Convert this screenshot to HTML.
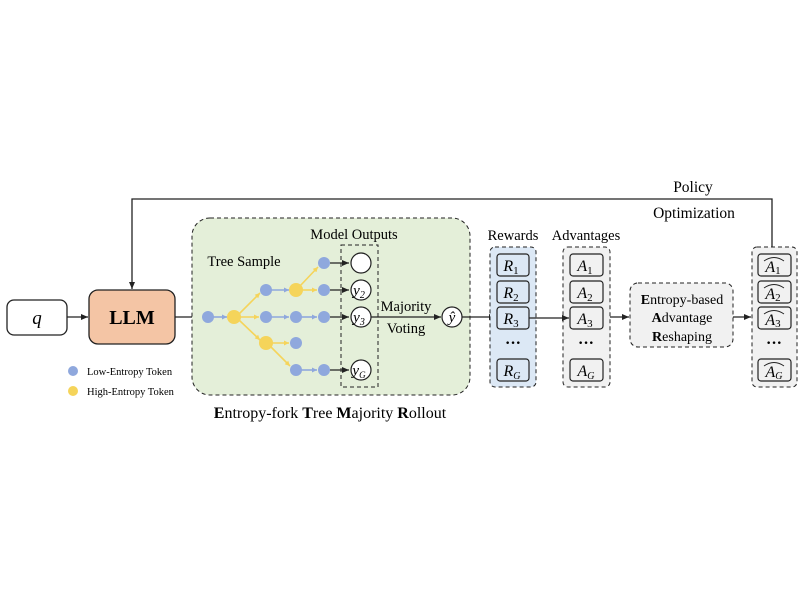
<!DOCTYPE html>
<html><head><meta charset="utf-8"><style>body{margin:0;background:#fff}</style></head><body>
<svg width="800" height="600" viewBox="0 0 800 600" xmlns="http://www.w3.org/2000/svg" font-family="Liberation Serif, serif">
<defs><marker id="a" markerWidth="8" markerHeight="8" refX="7" refY="4" orient="auto" markerUnits="userSpaceOnUse"><path d="M0,1 L7,4 L0,7z" fill="#222"/></marker>
<marker id="b" markerWidth="6" markerHeight="6" refX="5" refY="3" orient="auto" markerUnits="userSpaceOnUse"><path d="M0,0.5 L5,3 L0,5.5z" fill="#8fa8dd"/></marker>
<marker id="y" markerWidth="6" markerHeight="6" refX="5" refY="3" orient="auto" markerUnits="userSpaceOnUse"><path d="M0,0.5 L5,3 L0,5.5z" fill="#f5d45a"/></marker></defs>
<polyline points="772,247 772,199 132,199 132,289" fill="none" stroke="#222" stroke-width="1.3" marker-end="url(#a)"/>
<text x="693" y="192" font-size="15.5" text-anchor="middle">Policy</text>
<text x="694" y="218" font-size="15.5" text-anchor="middle">Optimization</text>
<rect x="7" y="300" width="60" height="35" rx="7" fill="#fff" stroke="#222" stroke-width="1.3"/>
<text x="37" y="324" font-size="19" font-style="italic" text-anchor="middle">q</text>
<line x1="67" y1="317" x2="88" y2="317" stroke="#222" stroke-width="1.3" marker-end="url(#a)"/>
<rect x="89" y="290" width="86" height="54" rx="9" fill="#f4c5a5" stroke="#222" stroke-width="1.3"/>
<text x="132" y="324" font-size="20" font-weight="bold" text-anchor="middle">LLM</text>
<line x1="175" y1="317" x2="199" y2="317" stroke="#222" stroke-width="1.3" marker-end="url(#a)"/>
<circle cx="73" cy="371" r="5" fill="#8fa8dd"/><circle cx="73" cy="391" r="5" fill="#f5d45a"/>
<text x="87" y="375" font-size="10.5">Low-Entropy Token</text>
<text x="87" y="395" font-size="10.5">High-Entropy Token</text>
<rect x="192" y="218" width="278" height="177" rx="18" fill="#e4efd9" stroke="#222" stroke-dasharray="4,3"/>
<text x="354" y="239" font-size="14.5" text-anchor="middle">Model Outputs</text>
<text x="244" y="266" font-size="14.5" text-anchor="middle">Tree Sample</text>
<g stroke-width="1.6">
<line x1="213" y1="317" x2="227" y2="317" stroke="#8fa8dd" marker-end="url(#b)"/>
<line x1="239" y1="314" x2="260" y2="293" stroke="#f5d45a" marker-end="url(#y)"/>
<line x1="240" y1="317" x2="259" y2="317" stroke="#f5d45a" marker-end="url(#y)"/>
<line x1="239" y1="320" x2="260" y2="340" stroke="#f5d45a" marker-end="url(#y)"/>
<line x1="271" y1="290" x2="289" y2="290" stroke="#8fa8dd" marker-end="url(#b)"/>
<line x1="271" y1="317" x2="289" y2="317" stroke="#8fa8dd" marker-end="url(#b)"/>
<line x1="272" y1="343" x2="289" y2="343" stroke="#f5d45a" marker-end="url(#y)"/>
<line x1="271" y1="347" x2="290" y2="366" stroke="#f5d45a" marker-end="url(#y)"/>
<line x1="300" y1="286" x2="318" y2="267" stroke="#f5d45a" marker-end="url(#y)"/>
<line x1="302" y1="290" x2="317" y2="290" stroke="#f5d45a" marker-end="url(#y)"/>
<line x1="301" y1="317" x2="317" y2="317" stroke="#8fa8dd" marker-end="url(#b)"/>
<line x1="301" y1="370" x2="317" y2="370" stroke="#8fa8dd" marker-end="url(#b)"/>
</g>
<g fill="#8fa8dd"><circle cx="208" cy="317" r="6"/><circle cx="266" cy="290" r="6"/><circle cx="266" cy="317" r="6"/><circle cx="296" cy="317" r="6"/><circle cx="296" cy="343" r="6"/><circle cx="296" cy="370" r="6"/><circle cx="324" cy="263" r="6"/><circle cx="324" cy="290" r="6"/><circle cx="324" cy="317" r="6"/><circle cx="324" cy="370" r="6"/></g>
<g fill="#f5d45a"><circle cx="234" cy="317" r="7"/><circle cx="266" cy="343" r="7"/><circle cx="296" cy="290" r="7"/></g>
<g stroke="#222" stroke-width="1.2"><line x1="330" y1="263" x2="349" y2="263" marker-end="url(#a)"/><line x1="330" y1="290" x2="349" y2="290" marker-end="url(#a)"/><line x1="330" y1="317" x2="349" y2="317" marker-end="url(#a)"/><line x1="330" y1="370" x2="349" y2="370" marker-end="url(#a)"/></g>
<rect x="341" y="245" width="37" height="142" fill="none" stroke="#222" stroke-dasharray="4,3"/>
<g fill="#fff" stroke="#222" stroke-width="1.2"><circle cx="361" cy="263" r="10"/><circle cx="361" cy="290" r="10"/><circle cx="361" cy="317" r="10"/><circle cx="361" cy="370" r="10"/></g>
<g font-size="15" font-style="italic" text-anchor="middle"><text x="359" y="295">y<tspan font-size="10" dy="3">2</tspan></text><text x="359" y="322">y<tspan font-size="10" dy="3">3</tspan></text><text x="359" y="375">y<tspan font-size="9" dy="3">G</tspan></text></g>
<line x1="371" y1="317" x2="441" y2="317" stroke="#222" stroke-width="1.2" marker-end="url(#a)"/>
<text x="406" y="311" font-size="14.5" text-anchor="middle">Majority</text>
<text x="406" y="333" font-size="14.5" text-anchor="middle">Voting</text>
<circle cx="452" cy="317" r="10" fill="#fff" stroke="#222" stroke-width="1.2"/>
<text x="452" y="322" font-size="15" font-style="italic" text-anchor="middle">ŷ</text>
<line x1="462" y1="317" x2="496" y2="317" stroke="#222" stroke-width="1.2" marker-end="url(#a)"/>
<text x="330" y="418" font-size="16" text-anchor="middle"><tspan font-weight="bold">E</tspan>ntropy-fork <tspan font-weight="bold">T</tspan>ree <tspan font-weight="bold">M</tspan>ajority <tspan font-weight="bold">R</tspan>ollout</text>
<text x="513" y="240" font-size="14.5" text-anchor="middle">Rewards</text>
<text x="586" y="240" font-size="14.5" text-anchor="middle">Advantages</text>
<rect x="490" y="247" width="46" height="140" rx="5" fill="#dce8f5" stroke="#222" stroke-dasharray="4,3"/>
<rect x="563" y="247" width="47" height="140" rx="5" fill="#f1f1f1" stroke="#222" stroke-dasharray="4,3"/>
<rect x="752" y="247" width="45" height="140" rx="5" fill="#f1f1f1" stroke="#222" stroke-dasharray="4,3"/>
<g fill="none" stroke="#222" stroke-width="1.2">
<rect x="497" y="254" width="32" height="22" rx="3"/><rect x="497" y="281" width="32" height="22" rx="3"/><rect x="497" y="307" width="32" height="22" rx="3"/><rect x="497" y="359" width="32" height="22" rx="3"/>
<rect x="570" y="254" width="33" height="22" rx="3"/><rect x="570" y="281" width="33" height="22" rx="3"/><rect x="570" y="307" width="33" height="22" rx="3"/><rect x="570" y="359" width="33" height="22" rx="3"/>
<rect x="758" y="254" width="33" height="22" rx="3"/><rect x="758" y="281" width="33" height="22" rx="3"/><rect x="758" y="307" width="33" height="22" rx="3"/><rect x="758" y="359" width="33" height="22" rx="3"/>
</g>
<g font-size="16" font-style="italic" text-anchor="middle">
<text x="511" y="271">R<tspan font-size="11" font-style="normal" dy="3">1</tspan></text><text x="511" y="298">R<tspan font-size="11" font-style="normal" dy="3">2</tspan></text><text x="511" y="324">R<tspan font-size="11" font-style="normal" dy="3">3</tspan></text><text x="512" y="376">R<tspan font-size="10" dy="3">G</tspan></text>
<text x="585" y="271">A<tspan font-size="11" font-style="normal" dy="3">1</tspan></text><text x="585" y="298">A<tspan font-size="11" font-style="normal" dy="3">2</tspan></text><text x="585" y="324">A<tspan font-size="11" font-style="normal" dy="3">3</tspan></text><text x="586" y="376">A<tspan font-size="10" dy="3">G</tspan></text>
<text x="773" y="272">A<tspan font-size="11" font-style="normal" dy="2">1</tspan></text><text x="773" y="299">A<tspan font-size="11" font-style="normal" dy="2">2</tspan></text><text x="773" y="325">A<tspan font-size="11" font-style="normal" dy="2">3</tspan></text><text x="774" y="377">A<tspan font-size="10" dy="2">G</tspan></text>
</g>
<g fill="none" stroke="#222" stroke-width="0.9"><path d="M764,261 Q774,254 784,261"/><path d="M764,288 Q774,281 784,288"/><path d="M764,314 Q774,307 784,314"/><path d="M764,366 Q774,359 784,366"/></g>
<g font-size="16" font-weight="bold" text-anchor="middle"><text x="513" y="348">···</text><text x="586" y="348">···</text><text x="774" y="348">···</text></g>
<line x1="529" y1="318" x2="569" y2="318" stroke="#222" stroke-width="1.2" marker-end="url(#a)"/>
<line x1="610" y1="317" x2="629" y2="317" stroke="#222" stroke-width="1.2" marker-end="url(#a)"/>
<rect x="630" y="283" width="103" height="64" rx="8" fill="#f1f1f1" stroke="#222" stroke-dasharray="4,3"/>
<g font-size="14" text-anchor="middle"><text x="682" y="304"><tspan font-weight="bold">E</tspan>ntropy-based</text><text x="682" y="322"><tspan font-weight="bold">A</tspan>dvantage</text><text x="682" y="341"><tspan font-weight="bold">R</tspan>eshaping</text></g>
<line x1="733" y1="317" x2="751" y2="317" stroke="#222" stroke-width="1.2" marker-end="url(#a)"/>
</svg>
</body></html>
